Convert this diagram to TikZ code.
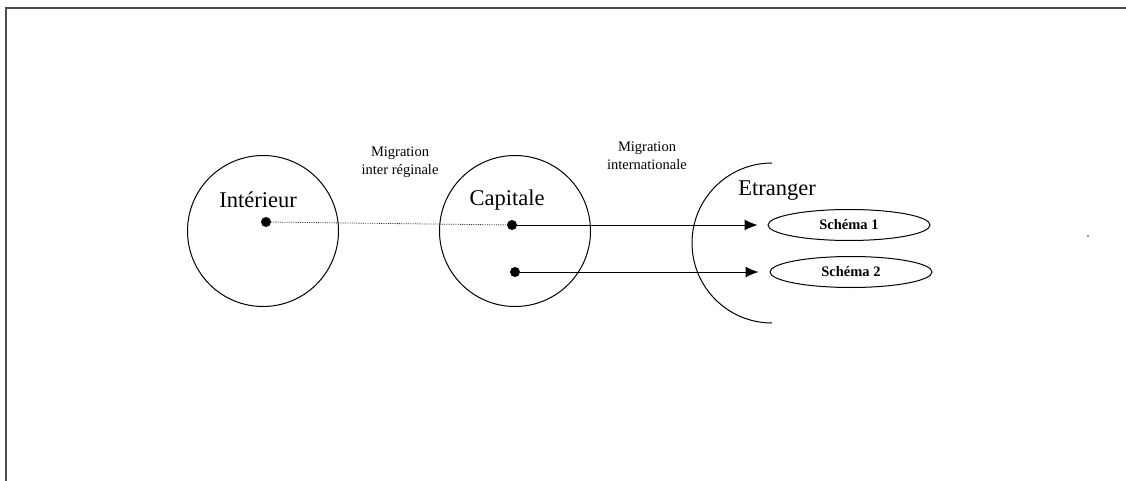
\documentclass[tikz,border=0pt]{standalone}
\usepackage{fontspec}
\setmainfont{Liberation Serif}
\usepackage{tikz}
\usetikzlibrary{shapes.geometric,arrows.meta}
\tikzstyle{zone}=[circle, draw, line width=1pt, inner sep=0pt, minimum size=151pt]
\tikzstyle{point}=[circle, fill, inner sep=0pt, minimum size=10pt]
\tikzstyle{schema}=[ellipse, draw, line width=1pt, inner sep=0pt, minimum width=162pt, minimum height=31pt, font=\fontsize{14.5}{16}\selectfont\bfseries]
\tikzstyle{titre}=[font=\fontsize{22.5}{25}\selectfont]
\tikzstyle{flux}=[font=\fontsize{14.5}{18}\selectfont, align=center]
\providecommand{\point}{\node[point]}

\begin{document}
\begin{tikzpicture}[x=1pt, y=-1pt,
    every edge/.style={draw, line width=1pt, -{Latex[length=13pt,width=11pt]}}
]
\useasboundingbox (0,0) rectangle (1126,481);
% cadre
\draw[line width=1.2pt, black!70] (6,481) -- (6,8) -- (1126,8);
\fill[black!40] (1087,235) rectangle (1089,237);
% zones
\node[zone] (interieur) at (263,231) {};
\node[zone] (capitale) at (515,231) {};
\draw[line width=1pt] (772,163) arc[start angle=270, end angle=90, radius=80];
\node[titre] at (258,200) {Intérieur};
\node[titre] at (507,200) {Capitale};
\node[titre] at (777,191) {Etranger};
\node[schema] (s1) at (849,225) {Schéma 1};
\node[schema] (s2) at (851,272) {Schéma 2};
\point (pi) at (266,222) {};
\point (pc1) at (512,225) {};
\point (pc2) at (515,272) {};
\node[flux] at (400,162) {Migration\\inter réginale};
\node[flux] at (647,156) {Migration\\internationale};
% flux
\draw[line width=0.8pt, densely dotted, black!80] (pi) -- (pc1);
\path
(pc1) edge[shorten >=10pt] (s1)
(pc2) edge[shorten >=11pt] (s2)
;
\end{tikzpicture}
\end{document}
